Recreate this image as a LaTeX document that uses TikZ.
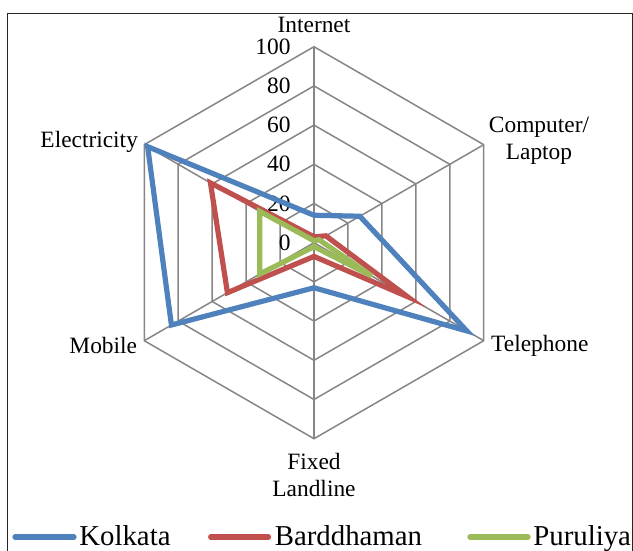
\documentclass[tikz,border=0pt]{standalone}
\usepackage{fontspec}
\setmainfont{Liberation Serif}
\usetikzlibrary{positioning}

\definecolor{kolkataBlue}{RGB}{79,129,189}
\definecolor{barddhamanRed}{RGB}{192,80,77}
\definecolor{puruliyaGreen}{RGB}{155,187,89}
\definecolor{gridGray}{RGB}{134,134,134}

\begin{document}
\begin{tikzpicture}[
    x=0.5pt, y=0.5pt,
    every node/.style={font=\fontsize{11.7}{13.5}\selectfont, inner sep=0pt},
    gridline/.style={draw=gridGray, line width=0.75pt},
    series/.style={line width=2.6pt},
    keyline/.style={line width=2.6pt, line cap=round},
    keytext/.style={anchor=base west, font=\fontsize{14.4}{16}\selectfont}
]

% Page and outer frame
\clip (-314,-308.3) rectangle (319,242.7);
\draw[line width=0.7pt, black!85] (-306.5,229.2) rectangle (318.5,-340);

\begin{scope}[scale=1.96]
% Hexagon rings, one per step of 20
\foreach \r in {20,40,...,100}
  \draw[gridline] (90:\r) -- (30:\r) -- (-30:\r) -- (-90:\r) -- (-150:\r) -- (150:\r) -- cycle;

% Spokes
\coordinate (c) at (0,0);
\coordinate (vInt)  at (90:100);
\coordinate (vComp) at (30:100);
\coordinate (vTel)  at (-30:100);
\coordinate (vFix)  at (-90:100);
\coordinate (vMob)  at (-150:100);
\coordinate (vElec) at (150:100);
\foreach \n in {vInt,vComp,vTel,vFix,vMob,vElec}
  \draw[gridline] (c) -- (\n);

% Scale values
\foreach \v in {0,20,...,100}
  \node[left=11.5pt] (tick\v) at (90:\v) {\v};

% Kolkata
\draw[series, kolkataBlue] (90:14) -- (30:27) -- (-30:90) -- (-90:23) -- (-150:84) -- (150:98) -- cycle;
% Barddhaman
\draw[series, barddhamanRed] (90:3) -- (30:7) -- (-30:55) -- (-90:7) -- (-150:51) -- (150:61) -- cycle;
% Puruliya
\draw[series, puruliyaGreen] (90:1) -- (30:3) -- (-30:34) -- (-90:2) -- (-150:32) -- (150:32) -- cycle;
\end{scope}

% Axis names
\node (lInt) at (0,217.7) {Internet};
\node[align=center] (lComp) at (225,101.7) {Computer/\\Laptop};
\node (lTel) at (225.8,-103) {Telephone};
\node[align=center] (lFix) at (0,-232.3) {Fixed\\Landline};
\node (lMob) at (-210.7,-103) {Mobile};
\node (lElec) at (-224.8,101) {Electricity};

% Legend
\coordinate (kA) at (-299,-294.3);
\coordinate (kB) at (-240,-294.3);
\draw[keyline, kolkataBlue] (kA) -- (kB);
\node[keytext] (kText) at (-235,-303.3) {Kolkata};

\coordinate (bA) at (-103.3,-294.3);
\coordinate (bB) at (-45.5,-294.3);
\draw[keyline, barddhamanRed] (bA) -- (bB);
\node[keytext] (bText) at (-39.5,-303.3) {Barddhaman};

\coordinate (pA) at (156,-294.3);
\coordinate (pB) at (214,-294.3);
\draw[keyline, puruliyaGreen] (pA) -- (pB);
\node[keytext] (pText) at (219,-303.3) {Puruliya};

\end{tikzpicture}
\end{document}
